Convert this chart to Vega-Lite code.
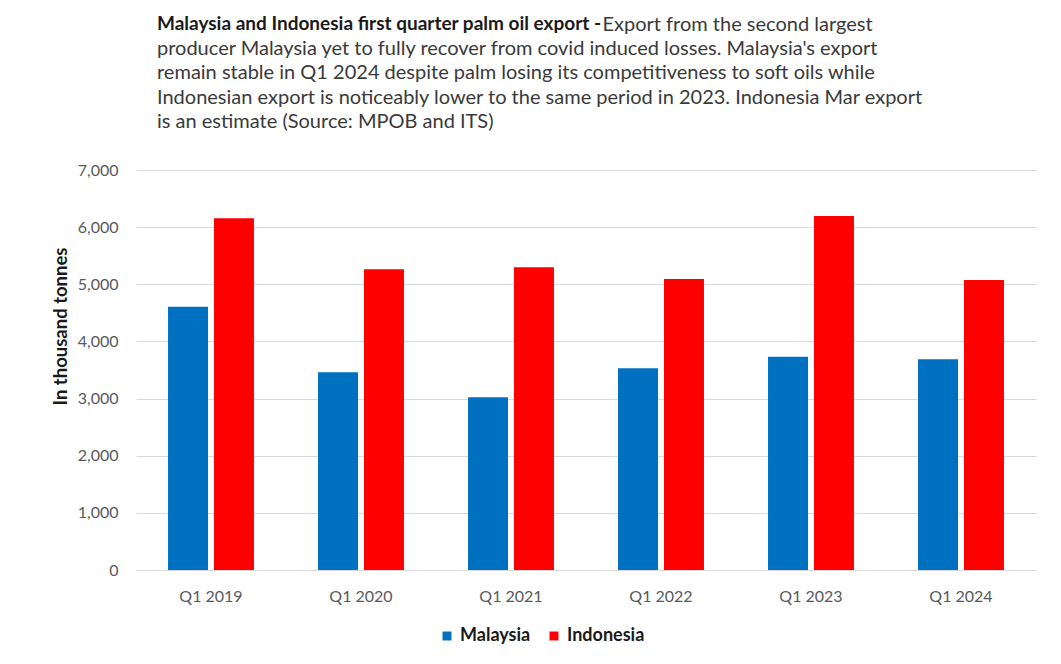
{
  "$schema": "https://vega.github.io/schema/vega-lite/v6.json",
  "width": 900,
  "height": 400,
  "autosize": {"type": "none"},
  "padding": {"left": 136, "top": 170, "right": 25, "bottom": 94},
  "background": "white",
  "title": {
    "text": "Malaysia and Indonesia first quarter palm oil export -",
    "subtitle": [
      "\u200b\u00a0\u00a0\u00a0\u00a0\u00a0\u00a0\u00a0\u00a0\u00a0\u00a0\u00a0\u00a0\u00a0\u00a0\u00a0\u00a0\u00a0\u00a0\u00a0\u00a0\u00a0\u00a0\u00a0\u00a0\u00a0\u00a0\u00a0\u00a0\u00a0\u00a0\u00a0\u00a0\u00a0\u00a0\u00a0\u00a0\u00a0\u00a0\u00a0\u00a0\u00a0\u00a0\u00a0\u00a0\u00a0\u00a0\u00a0\u00a0\u00a0\u00a0\u00a0\u00a0\u00a0\u00a0\u00a0\u00a0\u00a0\u00a0\u00a0\u00a0\u00a0\u00a0\u00a0\u00a0\u00a0\u00a0\u00a0\u00a0\u00a0\u00a0\u00a0\u00a0\u00a0\u00a0\u00a0\u00a0\u00a0\u00a0\u00a0\u00a0\u00a0\u00a0\u00a0\u00a0\u00a0\u00a0\u00a0Export from the second largest",
      "producer Malaysia yet to fully recover from covid induced losses. Malaysia's export",
      "remain stable in Q1 2024 despite palm losing its competitiveness to soft oils while",
      "Indonesian export is noticeably lower to the same period in 2023. Indonesia Mar export",
      "is an estimate (Source: MPOB and ITS)"
    ],
    "anchor": "start",
    "frame": "group",
    "dx": 21,
    "offset": 30,
    "font": "Lato",
    "fontSize": 19,
    "fontWeight": "bold",
    "color": "#1a1a1a",
    "subtitleFont": "Lato",
    "subtitleFontSize": 20,
    "subtitleColor": "#3a3a3a",
    "subtitleLineHeight": 24.3,
    "subtitlePadding": -19
  },
  "data": {
    "values": [
      {"quarter": "Q1 2019", "country": "Malaysia", "value": 4608},
      {"quarter": "Q1 2019", "country": "Indonesia", "value": 6155},
      {"quarter": "Q1 2020", "country": "Malaysia", "value": 3460},
      {"quarter": "Q1 2020", "country": "Indonesia", "value": 5262},
      {"quarter": "Q1 2021", "country": "Malaysia", "value": 3022},
      {"quarter": "Q1 2021", "country": "Indonesia", "value": 5297},
      {"quarter": "Q1 2022", "country": "Malaysia", "value": 3530},
      {"quarter": "Q1 2022", "country": "Indonesia", "value": 5093},
      {"quarter": "Q1 2023", "country": "Malaysia", "value": 3733},
      {"quarter": "Q1 2023", "country": "Indonesia", "value": 6195},
      {"quarter": "Q1 2024", "country": "Malaysia", "value": 3687},
      {"quarter": "Q1 2024", "country": "Indonesia", "value": 5075}
    ]
  },
  "mark": {"type": "bar"},
  "encoding": {
    "x": {
      "field": "quarter",
      "type": "nominal",
      "sort": null,
      "scale": {"paddingInner": 0.427, "paddingOuter": 0.2135},
      "axis": {
        "title": null,
        "labelAngle": 0,
        "labelFont": "Lato",
        "labelFontSize": 16,
        "labelColor": "#595959",
        "labelPadding": 18,
        "ticks": false,
        "domainColor": "#d9d9d9",
        "domainWidth": 1
      }
    },
    "xOffset": {
      "field": "country",
      "type": "nominal",
      "sort": ["Malaysia", "Indonesia"],
      "scale": {"paddingInner": 0.13, "paddingOuter": 0}
    },
    "y": {
      "field": "value",
      "type": "quantitative",
      "scale": {"domain": [0, 7000], "nice": false},
      "axis": {
        "values": [0, 1000, 2000, 3000, 4000, 5000, 6000, 7000],
        "format": ",.0f",
        "title": "In thousand tonnes",
        "titleFont": "Lato",
        "titleFontSize": 18.5,
        "titleFontWeight": "bold",
        "titleColor": "#1a1a1a",
        "titleY": 156,
        "titlePadding": 7,
        "labelFont": "Lato",
        "labelFontSize": 16,
        "labelColor": "#595959",
        "labelPadding": 18,
        "ticks": false,
        "domain": false,
        "gridColor": "#d9d9d9",
        "gridWidth": 1
      }
    },
    "color": {
      "field": "country",
      "type": "nominal",
      "sort": ["Malaysia", "Indonesia"],
      "scale": {"domain": ["Malaysia", "Indonesia"], "range": ["#0070C0", "#FF0000"]},
      "legend": {
        "title": null,
        "orient": "none",
        "direction": "horizontal",
        "legendX": 302,
        "legendY": 457,
        "symbolType": "square",
        "symbolSize": 80,
        "symbolStrokeWidth": 0,
        "labelFont": "Lato",
        "labelFontSize": 18,
        "labelFontWeight": "bold",
        "labelColor": "#1a1a1a",
        "labelOffset": 4,
        "columnPadding": 14
      }
    }
  },
  "config": {"view": {"stroke": null}}
}
